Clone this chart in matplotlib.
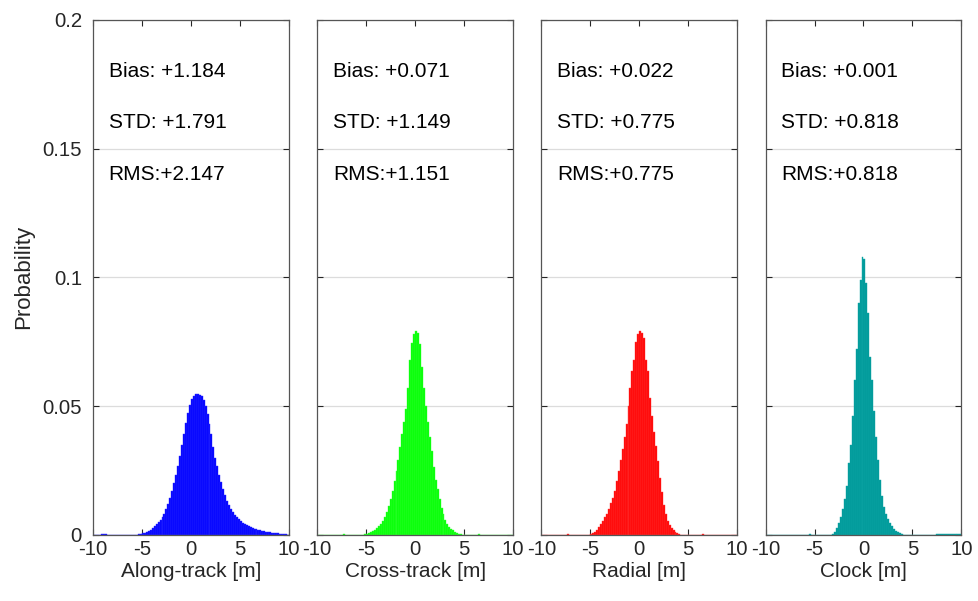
import numpy as np
import matplotlib
matplotlib.use('Agg')
import matplotlib.pyplot as plt

plt.rcParams['font.family'] = ['Liberation Sans', 'DejaVu Sans']

# histogram bins: 0.2 m wide from -10 to 10 m (100 bins)
bin_edges = np.linspace(-10, 10, 101)
bin_centers = (bin_edges[:-1] + bin_edges[1:]) / 2

along = [
    0, 0, 0, 0, 0.0002, 0.0003, 0.0002, 0, 0, 0,
    0, 0, 0, 0, 0, 0, 0, 0, 0, 0,
    0, 0, 0, 0.0002, 0.0003, 0.0006, 0.0009, 0.0012, 0.0016, 0.0020,
    0.0026, 0.0033, 0.0041, 0.0050, 0.0059, 0.0069, 0.0082, 0.0100, 0.0120, 0.0144,
    0.0170, 0.0200, 0.0233, 0.0266, 0.0305, 0.0348, 0.0392, 0.0436, 0.0475, 0.0506,
    0.0528, 0.0540, 0.0546, 0.0547, 0.0545, 0.0538, 0.0522, 0.0500, 0.0468, 0.0430,
    0.0391, 0.0340, 0.0300, 0.0266, 0.0234, 0.0204, 0.0178, 0.0154, 0.0133, 0.0115,
    0.0100, 0.0088, 0.0078, 0.0069, 0.0061, 0.0053, 0.0047, 0.0042, 0.0037, 0.0033,
    0.0030, 0.0027, 0.0024, 0.0022, 0.0020, 0.0018, 0.0016, 0.0014, 0.0012, 0.0011,
    0.0010, 0.0009, 0.0008, 0.0007, 0.0006, 0.0005, 0.0004, 0.0003, 0.0002, 0.0001,
]

cross = [
    0, 0, 0, 0, 0, 0, 0, 0, 0, 0,
    0, 0, 0, 0.0003, 0, 0, 0, 0, 0, 0,
    0, 0, 0, 0, 0.0002, 0.0005, 0.0008, 0.0011, 0.0015, 0.0019,
    0.0025, 0.0033, 0.0042, 0.0055, 0.0070, 0.0088, 0.0112, 0.0140, 0.0172, 0.0208,
    0.0248, 0.0292, 0.0340, 0.0390, 0.0440, 0.0490, 0.0570, 0.0680, 0.0745, 0.0780,
    0.0790, 0.0785, 0.0740, 0.0650, 0.0570, 0.0500, 0.0440, 0.0380, 0.0325, 0.0262,
    0.0215, 0.0178, 0.0140, 0.0105, 0.0080, 0.0057, 0.0042, 0.0032, 0.0024, 0.0018,
    0.0012, 0.0008, 0.0005, 0.0003, 0, 0, 0, 0, 0, 0,
    0, 0, 0.0003, 0, 0, 0, 0, 0, 0, 0,
    0, 0, 0, 0, 0, 0, 0, 0, 0, 0,
]

radial = [
    0, 0, 0, 0, 0, 0, 0, 0, 0, 0,
    0, 0, 0, 0.0003, 0, 0, 0, 0, 0, 0,
    0, 0, 0, 0, 0, 0.0004, 0.0008, 0.0013, 0.0020, 0.0030,
    0.0043, 0.0055, 0.0068, 0.0082, 0.0100, 0.0122, 0.0145, 0.0170, 0.0210, 0.0250,
    0.0290, 0.0335, 0.0380, 0.0430, 0.0500, 0.0570, 0.0635, 0.0680, 0.0750, 0.0780,
    0.0790, 0.0785, 0.0765, 0.0680, 0.0635, 0.0530, 0.0460, 0.0400, 0.0345, 0.0285,
    0.0220, 0.0165, 0.0115, 0.0080, 0.0055, 0.0040, 0.0028, 0.0018, 0.0012, 0.0007,
    0.0004, 0, 0, 0, 0, 0, 0, 0, 0, 0,
    0, 0, 0.0003, 0, 0, 0, 0, 0, 0, 0,
    0, 0, 0, 0, 0, 0, 0, 0, 0, 0,
]

clock = [
    0, 0, 0, 0, 0, 0, 0, 0, 0, 0,
    0, 0, 0, 0, 0, 0, 0, 0, 0, 0,
    0, 0, 0.0003, 0, 0, 0, 0, 0, 0, 0,
    0, 0, 0, 0, 0.0004, 0.0012, 0.0025, 0.0045, 0.0068, 0.0100,
    0.0140, 0.0190, 0.0280, 0.0350, 0.0460, 0.0600, 0.0720, 0.0900, 0.0990, 0.1080,
    0.1070, 0.0980, 0.0860, 0.0690, 0.0600, 0.0480, 0.0380, 0.0290, 0.0215, 0.0150,
    0.0110, 0.0080, 0.0060, 0.0045, 0.0033, 0.0022, 0.0015, 0.0010, 0.0006, 0.0003,
    0, 0, 0, 0, 0, 0, 0, 0, 0, 0,
    0, 0, 0, 0, 0, 0, 0, 0.0004, 0.0004, 0.0004,
    0.0004, 0.0004, 0.0004, 0.0004, 0.0004, 0.0004, 0.0004, 0.0004, 0.0004, 0.0004,
]

series = [along, cross, radial, clock]
xlabels = ['Along-track [m]', 'Cross-track [m]', 'Radial [m]', 'Clock [m]']
colors = ['#0000ff', '#00ff00', '#ff0000', '#009999']
edge_colors = ['#3030ff', '#40ff40', '#ff4040', '#10a8a8']
bias = ['+1.184', '+0.071', '+0.022', '+0.001']
std = ['+1.791', '+1.149', '+0.775', '+0.818']
rms = ['+2.147', '+1.151', '+0.775', '+0.818']

fig = plt.figure(figsize=(9.79, 6.01), dpi=100)
axis_color = '#262626'

for k in range(4):
    ax = fig.add_axes([0.095 + k * 0.229, 0.110, 0.200, 0.857])
    ax.bar(bin_centers, series[k], width=0.2, color=colors[k],
           edgecolor=edge_colors[k], linewidth=0.3, zorder=2)
    ax.set_xlim(-10, 10)
    ax.set_ylim(0, 0.2)
    ax.set_xticks([-10, -5, 0, 5, 10])
    ax.set_xticklabels(['-10', '-5', '0', '5', '10'])
    ax.set_yticks([0, 0.05, 0.1, 0.15, 0.2])
    if k == 0:
        ax.set_yticklabels(['0', '0.05', '0.1', '0.15', '0.2'])
        ax.set_ylabel('Probability', fontsize=16, color=axis_color, labelpad=6)
    else:
        ax.set_yticklabels([])
    ax.set_xlabel(xlabels[k], fontsize=15, color=axis_color, labelpad=2)
    ax.grid(axis='y', color='#dcdcdc', linewidth=0.9, zorder=0)
    ax.set_axisbelow(True)
    ax.tick_params(direction='in', top=True, right=True, length=4,
                   width=0.8, labelsize=14.7, colors=axis_color)
    ax.tick_params(axis='y', pad=8)
    ax.tick_params(axis='x', pad=4)
    for sp in ax.spines.values():
        sp.set_color('#555555')
        sp.set_linewidth(0.9)
    ax.text(-8.4, 0.180, 'Bias: ' + bias[k], fontsize=15, va='center')
    ax.text(-8.4, 0.160, 'STD: ' + std[k], fontsize=15, va='center')
    ax.text(-8.4, 0.140, 'RMS:' + rms[k], fontsize=15, va='center')

fig.savefig('out.png', dpi=100)
